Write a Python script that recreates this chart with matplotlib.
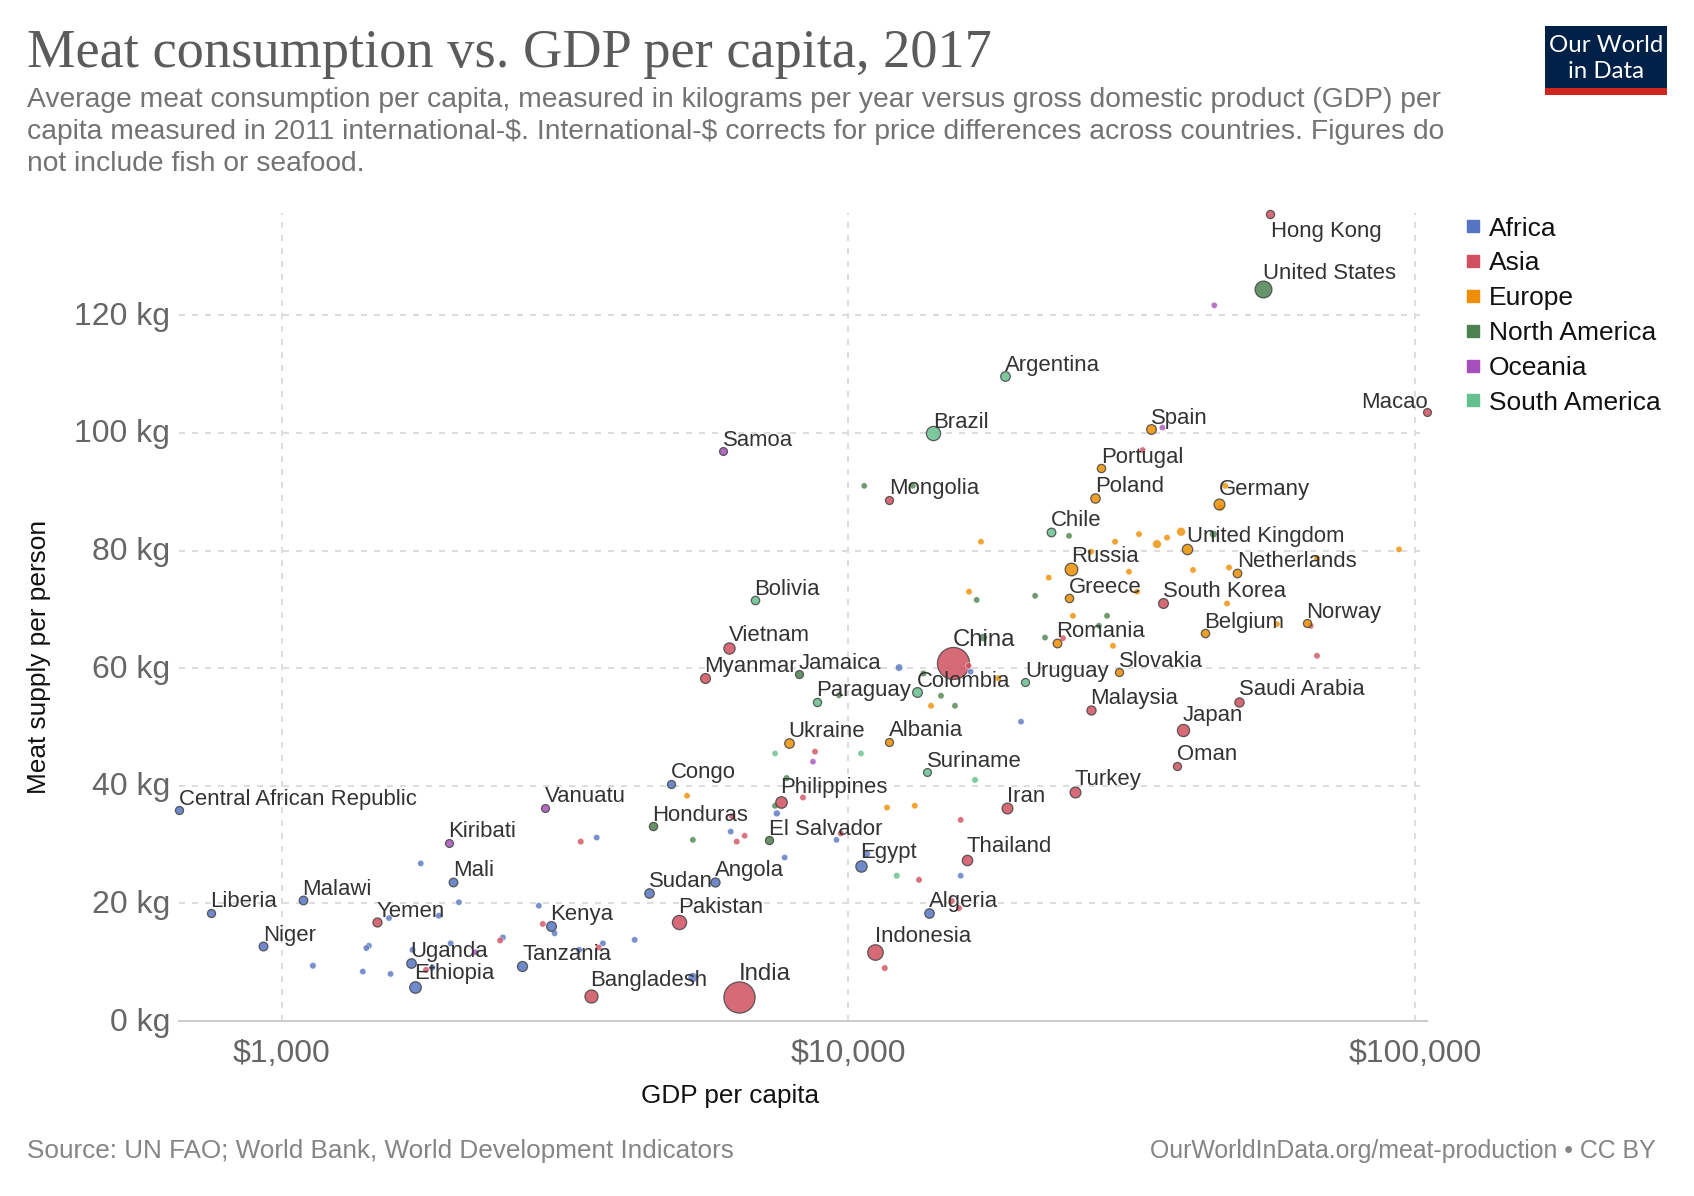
import matplotlib
matplotlib.use("Agg")
import matplotlib.pyplot as plt
from matplotlib.lines import Line2D
from matplotlib.patches import Rectangle
from matplotlib.transforms import ScaledTranslation
import numpy as np

TITLE = "Meat consumption vs. GDP per capita, 2017"
SUBTITLE = ["Average meat consumption per capita, measured in kilograms per year versus gross domestic product (GDP) per",
            "capita measured in 2011 international-$. International-$ corrects for price differences across countries. Figures do",
            "not include fish or seafood."]
SOURCE = "Source: UN FAO; World Bank, World Development Indicators"
URL = "OurWorldInData.org/meat-production • CC BY"

regions = ["Africa", "Asia", "Europe", "North America", "Oceania", "South America"]

labelled_names = ["Hong Kong","United States","Argentina","Macao","Spain","Brazil","Samoa","Portugal","Poland","Mongolia",
    "Germany","Chile","United Kingdom","Netherlands","Russia","Greece","South Korea","Bolivia","Vietnam","Norway",
    "Belgium","Romania","China","Slovakia","Myanmar","Jamaica","Uruguay","Colombia","Paraguay","Malaysia",
    "Saudi Arabia","Japan","Ukraine","Albania","Oman","Suriname","Congo","Turkey","Philippines","Iran",
    "Vanuatu","Central African Republic","Honduras","El Salvador","Kiribati","Thailand","Egypt","Mali","Angola","Sudan",
    "Malawi","Liberia","Algeria","Pakistan","Yemen","Kenya","Niger","Indonesia","Uganda","Tanzania",
    "Ethiopia","Bangladesh","India"]
labelled_region = ["Asia","North America","South America","Asia","Europe","South America","Oceania","Europe","Europe","Asia",
    "Europe","South America","Europe","Europe","Europe","Europe","Asia","South America","Asia","Europe",
    "Europe","Europe","Asia","Europe","Asia","North America","South America","South America","South America","Asia",
    "Asia","Asia","Europe","Europe","Asia","South America","Africa","Asia","Asia","Asia",
    "Oceania","Africa","North America","North America","Oceania","Asia","Africa","Africa","Africa","Africa",
    "Africa","Africa","Africa","Asia","Asia","Africa","Africa","Asia","Africa","Africa",
    "Africa","Asia","Asia"]
labelled_gdp = [55560,53890,18870,105050,34140,14120,5998,27910,27240,11800,
    45030,22780,39580,48500,24710,24510,35910,6839,6153,64480,
    42590,23340,15277,30020,5580,8179,20490,13213,8798,26810,
    48830,38940,7852,11790,37980,13760,4858,25080,7602,19020,
    2909,657,4517,7238,1971,16180,10527,2003,5805,4444,
    1088,748,13870,5021,1470,2985,925,11120,1688,2658,
    1714,3512,6397]
labelled_meat = [137.3,124.4,109.6,103.5,100.7,100.0,96.9,94.1,89.0,88.6,
    88.0,83.2,80.2,76.1,76.8,72.0,71.0,71.6,63.4,67.6,
    65.9,64.2,60.8,59.4,58.4,59.0,57.7,56.0,54.3,52.9,
    54.3,49.5,47.2,47.4,43.4,42.4,40.3,39.0,37.3,36.3,
    36.2,35.9,33.2,30.8,30.2,27.4,26.4,23.7,23.7,21.7,
    20.6,18.3,18.3,16.9,16.9,16.2,12.8,11.8,9.8,9.4,
    5.7,4.3,4.0]
labelled_pop = [7,325,44,0.6,47,207,0.2,10,38,3,
    82,18,66,17,144,11,51,11,95,5,
    11,20,1421,5,53,3,3,49,7,31,
    33,127,44,3,4.6,0.6,5,81,105,81,
    0.3,4.6,9,6,0.1,69,97,19,30,40,
    18,5,41,207,28,50,22,264,43,57,
    105,159,1339]

africa_gdp = [3594,1758,2053,2841,1545,1892,3029,2454,1424,1409,1985,1700,3686,3347,4194,1134,1389,1555,1842,5313,12283,16430,20164,7474,6196,9524,7716,10773,15780]
africa_meat = [31.2,26.8,20.2,19.6,17.5,17.9,14.9,14.2,12.8,12.4,13.2,12.1,13.2,12.1,13.8,9.4,8.4,8.0,9.1,7.4,60.1,59.4,50.9,35.3,32.2,30.8,27.8,28.4,24.7]
africa_pop = [3,3,3,3,3,5,3,6,3,3,4,5,5,5,5,7,3,3,8,81,25,2,2,14,3,2,2,16,2]
asia_gdp = [3368,2887,2427,3622,1796,8728,8311,6231,6558,6350,9690,13320,15220,15670,15780,11590,16300,33060,23920,65450,67140]
asia_meat = [30.5,16.5,13.7,12.5,8.7,45.8,38.0,34.8,31.5,30.5,31.9,24.0,20.4,19.2,34.2,9.0,60.4,97.1,65.1,67.2,62.1]
asia_pop = [6,5,5,6,5,3,4,8,3,4,4,6,5,6,3,6,3,1,4,3,4]
europe_gdp = [5188,11695,13091,13986,18380,16320,17135,26800,29550,32570,35040,36500,38640,45400,46260,93700,67140,46960,40570,22570,31270,32310,46580,24900,57060,29300]
europe_meat = [38.3,36.3,36.6,53.6,58.3,73.0,81.5,79.8,81.5,82.8,81.1,82.2,83.2,87.3,91.0,80.2,78.7,77.1,76.7,75.4,76.4,73.0,71.0,68.9,67.5,63.8]
europe_pop = [3,4,4,3,4,4,4,5,5,5,55,5,60,8,4,2,4,6,4,4,4,4,4,4,3,4]
north_gdp = [5313,7420,7778,9622,13560,14565,15417,17300,16840,21350,24510,44060,28600,27680,22230,10660,12990]
north_meat = [30.8,36.6,41.3,55.4,59.1,55.3,53.6,65.2,71.6,72.3,82.5,82.8,68.9,67.2,65.2,91.0,91.0]
north_pop = [3,5,8,3,8,3,3,40,3,3,3,30,3,3,3,1,1]
oceania_gdp = [2194,8657,44230,35820]
oceania_meat = [11.7,44.1,121.7,100.9]
oceania_pop = [1,1,2,2]
south_gdp = [7420,10522,16724,12170]
south_meat = [45.5,45.5,41.0,24.7]
south_pop = [2,4,8,8]

x_ticks = [1000, 10000, 100000]
x_tick_labels = ["$1,000", "$10,000", "$100,000"]
y_ticks = [0, 20, 40, 60, 80, 100, 120]
y_tick_labels = ["0 kg", "20 kg", "40 kg", "60 kg", "80 kg", "100 kg", "120 kg"]

# label placement, in image pixels relative to each marker centre
label_offsets = {
 "Hong Kong":(1,23),"United States":(0,-10),"Argentina":(0,-5),"Macao":(-66,-4),"Spain":(0,-5),"Brazil":(0,-5),"Samoa":(0,-5),
 "Portugal":(0,-5),"Poland":(0,-6),"Mongolia":(0,-6),"Germany":(0,-9),"Chile":(0,-6),"United Kingdom":(0,-7),"Netherlands":(0,-6),
 "Russia":(0,-7),"Greece":(0,-5),"South Korea":(0,-6),"Bolivia":(-1,-5),"Vietnam":(0,-7),"Norway":(-1,-5),"Belgium":(-1,-5),
 "Romania":(-1,-6),"China":(0,-17),"Slovakia":(0,-5),"Myanmar":(-1,-6),"Jamaica":(0,-5),"Uruguay":(0,-5),"Colombia":(0,-5),
 "Paraguay":(-1,-6),"Malaysia":(-1,-6),"Saudi Arabia":(0,-7),"Japan":(0,-9),"Ukraine":(-1,-6),"Albania":(0,-6),"Oman":(0,-6),
 "Suriname":(0,-5),"Congo":(0,-6),"Turkey":(0,-7),"Philippines":(-1,-9),"Iran":(0,-6),"Vanuatu":(0,-6),
 "Central African Republic":(0,-5),"Honduras":(-1,-5),"El Salvador":(0,-5),"Kiribati":(-1,-6),"Thailand":(0,-8),"Egypt":(-1,-8),
 "Mali":(0,-6),"Angola":(0,-6),"Sudan":(0,-6),"Malawi":(-1,-5),"Liberia":(0,-6),"Algeria":(0,-6),"Pakistan":(-1,-9),"Yemen":(0,-5),
 "Kenya":(-1,-6),"Niger":(0,-5),"Indonesia":(0,-10),"Uganda":(-1,-6),"Tanzania":(0,-6),"Ethiopia":(0,-8),"Bangladesh":(-1,-10),"India":(0,-17),
}
large_labels = ["China", "India"]

W, H = 1694, 1196
fx = lambda p: p / W
fy = lambda p: 1 - p / H
PX = 72 / 100

colors = dict(zip(regions, ["#5675C1", "#D0505F", "#EE8E00", "#4C8150", "#A651BB", "#66BF8E"]))
plt.rcParams["font.family"] = ["Liberation Sans", "DejaVu Sans"]

fig = plt.figure(figsize=(W / 100, H / 100), dpi=100, facecolor="white")
L, R, T, B = 178.6, 1427.0, 213.0, 1021.0
ax = fig.add_axes([fx(L), fy(B), (R - L) / W, (B - T) / H])
ax.set_xscale("log")
ax.set_xlim(657, 105000)
ax.set_ylim(0, 137.4)
for s in ["top", "left", "right"]:
    ax.spines[s].set_visible(False)
ax.spines["bottom"].set_color("#cccccc")
ax.spines["bottom"].set_linewidth(2.0 * PX)
ax.set_axisbelow(True)
ax.grid(True, which="major", color="#dddddd", linewidth=2.0 * PX, linestyle=(0, (3.0, 3.5)))
ax.minorticks_off()
ax.set_xticks(x_ticks, x_tick_labels)
ax.set_yticks(y_ticks, y_tick_labels)
ax.tick_params(axis="x", length=0, pad=13, labelsize=23, labelcolor="#666666")
ax.tick_params(axis="y", length=0, pad=6, labelsize=23, labelcolor="#666666")
ax.xaxis.set_minor_locator(matplotlib.ticker.NullLocator())
up = ScaledTranslation(0, 2 * PX / 72, fig.dpi_scale_trans)
for t in ax.get_yticklabels():
    t.set_transform(t.get_transform() + up)

diam = lambda pop, base: np.sqrt(base + 0.68 * np.asarray(pop, dtype=float))

unlabelled = {"Africa": (africa_gdp, africa_meat, africa_pop), "Asia": (asia_gdp, asia_meat, asia_pop),
              "Europe": (europe_gdp, europe_meat, europe_pop), "North America": (north_gdp, north_meat, north_pop),
              "Oceania": (oceania_gdp, oceania_meat, oceania_pop), "South America": (south_gdp, south_meat, south_pop)}
for reg, (g, m, p) in unlabelled.items():
    d = diam(p, 38)
    ax.scatter(g, m, s=(d * PX) ** 2, color=colors[reg], alpha=0.8, edgecolors="white",
               linewidths=0.4, zorder=3, clip_on=False)
order = np.argsort(labelled_pop)[::-1]
for i in order:
    d = diam(labelled_pop[i], 62)
    ax.scatter([labelled_gdp[i]], [labelled_meat[i]], s=(d * PX) ** 2, facecolor=colors[labelled_region[i]],
               alpha=0.85, edgecolors="#444444", linewidths=0.9, zorder=2.5 if labelled_pop[i] > 300 else 3.5, clip_on=False)
for n, g, m in zip(labelled_names, labelled_gdp, labelled_meat):
    dx, dy = label_offsets[n]
    ax.annotate(n, (g, m), xytext=(dx, -dy), textcoords="offset pixels", ha="left", va="baseline",
                fontsize=17.3 if n in large_labels else 15.9, color="#333333", zorder=5, annotation_clip=False)

fig.text(fx(39), fy(657), "Meat supply per person", rotation=90, ha="center", va="center", fontsize=18.9, color="#111111")
fig.text(fx(730), fy(1096), "GDP per capita", ha="center", va="center", fontsize=18.8, color="#111111")

fig.text(fx(27), fy(67), TITLE, fontsize=39.2, family=["Liberation Serif", "DejaVu Serif"], color="#5b5b5b", ha="left", va="baseline")
for line, y in zip(SUBTITLE, [107, 139, 171]):
    fig.text(fx(27), fy(y), line, fontsize=20.3, color="#737373", ha="left", va="baseline", parse_math=False)
fig.text(fx(27), fy(1158), SOURCE, fontsize=18.77, color="#858585", ha="left", va="baseline")
fig.text(fx(1656), fy(1158), URL, fontsize=17.95, color="#858585", ha="right", va="baseline")

fig.add_artist(Rectangle((fx(1545), fy(88)), 122 / W, 62 / H, transform=fig.transFigure, facecolor="#002147", edgecolor="none"))
fig.add_artist(Rectangle((fx(1545), fy(95)), 122 / W, 7 / H, transform=fig.transFigure, facecolor="#CE261E", edgecolor="none"))
fig.text(fx(1606), fy(46), "Our World", family="Lato", fontsize=17.3, color="white", ha="center", va="center")
fig.text(fx(1606), fy(72), "in Data", family="Lato", fontsize=17.3, color="white", ha="center", va="center")

handles = [Line2D([], [], linestyle="none", marker="s", markersize=12 * PX, color=colors[r], label=r) for r in regions]
fig.legend(handles=handles, loc="upper left", bbox_to_anchor=(fx(1466.5), fy(216.5)), frameon=False, fontsize=19,
           labelcolor="#111111", handlelength=0.5, handletextpad=0.36, labelspacing=0.41, borderpad=0, borderaxespad=0)

fig.savefig("out.png", dpi=100)
